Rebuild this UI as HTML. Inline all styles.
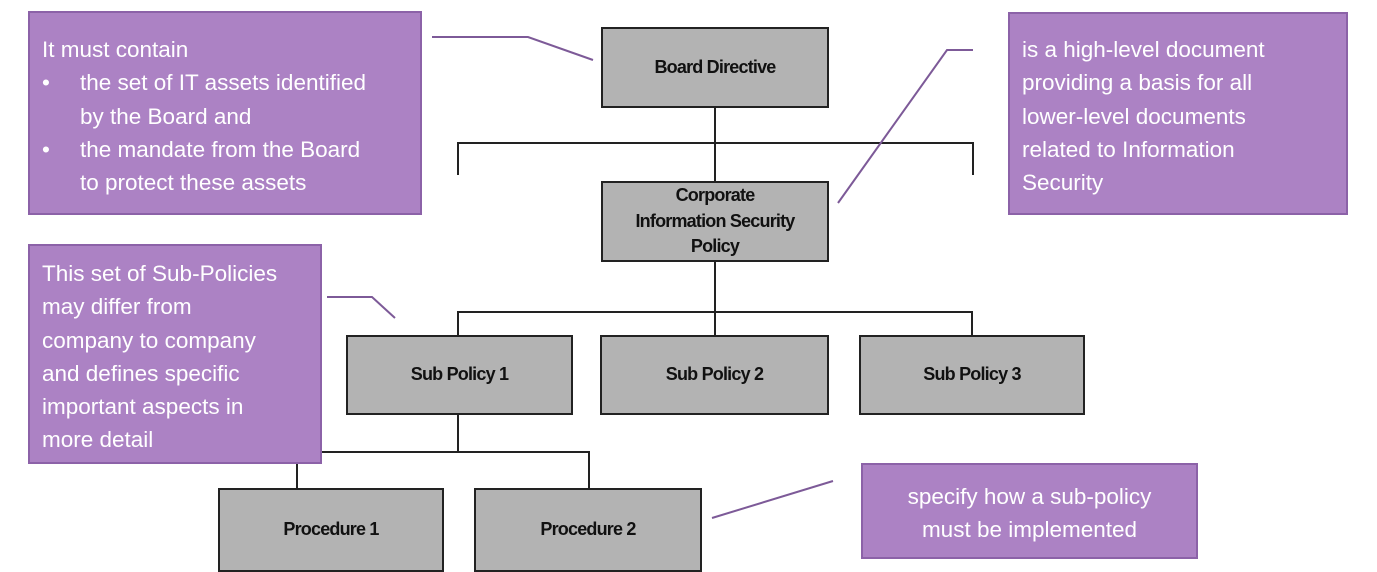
<!DOCTYPE html>
<html><head><meta charset="utf-8"><style>
body{margin:0;width:1377px;height:570px;background:#fff;position:relative;overflow:hidden;font-family:"Liberation Sans",sans-serif}
.p{position:absolute;background:#ac82c4;border:2px solid #8c62a8;box-sizing:border-box;color:#fff;font-size:22.5px;line-height:33.3px;white-space:nowrap;font-family:"Liberation Sans",sans-serif}
.g{position:absolute;background:#b3b3b3;border:2px solid #222;box-sizing:border-box;display:flex;align-items:center;justify-content:center;text-align:center;font-weight:bold;font-size:18px;letter-spacing:-0.8px;color:#111;line-height:25.5px}
svg{position:absolute;left:0;top:0}
.b{position:relative;padding-left:38px}
.b:before{content:"•";position:absolute;left:0}
</style></head><body>
<svg width="1377" height="570">
<g stroke="#222" stroke-width="2" fill="none">
<path d="M715 107V181M458 175V143H973V175M715 261V312M458 335V312H972V335M715 312V335M458 414V452M297 488V452H589V488"/>
</g>
<g stroke="#7d5a98" stroke-width="2" fill="none">
<path d="M432 37H528L593 60M973 50H947L838 203M327 297H372L395 318M712 518L833 481"/>
</g>
</svg>
<div class="p" style="left:28px;top:11px;width:394px;height:204px;padding:20px 12px">It must contain<div class="b">the set of IT assets identified<br>by the Board and</div><div class="b">the mandate from the Board<br>to protect these assets</div></div>
<div class="p" style="left:1008px;top:12px;width:340px;height:203px;padding:19px 12px">is a high-level document<br>providing a basis for all<br>lower-level documents<br>related to Information<br>Security</div>
<div class="p" style="left:28px;top:244px;width:294px;height:220px;padding:11px 12px">This set of Sub-Policies<br>may differ from<br>company to company<br>and defines specific<br>important aspects in<br>more detail</div>
<div class="p" style="left:861px;top:463px;width:337px;height:96px;padding:15px 12px;text-align:center">specify how a sub-policy<br>must be implemented</div>
<div class="g" style="left:601px;top:27px;width:228px;height:81px">Board Directive</div>
<div class="g" style="left:601px;top:181px;width:228px;height:81px">Corporate<br>Information Security<br>Policy</div>
<div class="g" style="left:346px;top:335px;width:227px;height:80px">Sub Policy 1</div>
<div class="g" style="left:600px;top:335px;width:229px;height:80px">Sub Policy 2</div>
<div class="g" style="left:859px;top:335px;width:226px;height:80px">Sub Policy 3</div>
<div class="g" style="left:218px;top:488px;width:226px;height:84px">Procedure 1</div>
<div class="g" style="left:474px;top:488px;width:228px;height:84px">Procedure 2</div>
</body></html>
